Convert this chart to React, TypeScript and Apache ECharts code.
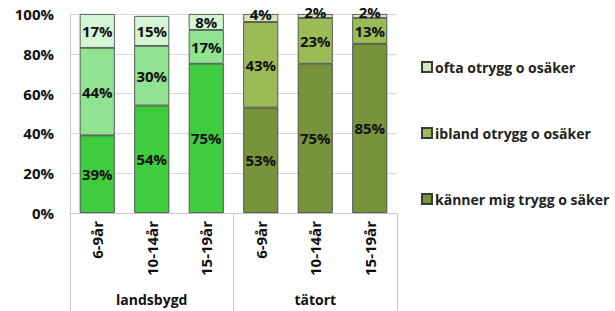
import React, { useEffect, useRef } from "react";
import * as echarts from "echarts";

const ageGroups = ["6-9år", "10-14år", "15-19år", "6-9år", "10-14år", "15-19år"];
const areas = ["landsbygd", "tätort"];
const seriesNames = ["känner mig trygg o säker", "ibland otrygg o osäker", "ofta otrygg o osäker"];
const trygg = [39, 54, 75, 53, 75, 85];
const ibland = [44, 30, 17, 43, 23, 13];
const ofta = [17, 15, 8, 4, 2, 2];
const yTicks = [0, 20, 40, 60, 80, 100];

const landColors = ["#3fcd3f", "#90e390", "#d4f6d4"];
const tatColors = ["#77933c", "#9bbb59", "#d7e4bd"];

export default function App() {
  const ref = useRef<HTMLDivElement>(null);
  useEffect(() => {
    if (!ref.current) return;
    const chart = echarts.init(ref.current, undefined, { renderer: "svg" });
    const font = "Open Sans";
    const values = [trygg, ibland, ofta];
    const series = values.map((vals, si) => ({
      name: seriesNames[si],
      type: "bar",
      stack: "total",
      barWidth: 35,
      itemStyle: { color: tatColors[si], borderColor: "#3a3a3a", borderWidth: 0.8 },
      label: {
        show: true,
        position: "inside",
        formatter: "{c}%",
        fontFamily: font,
        fontWeight: "bold",
        fontSize: 15,
        lineHeight: 14,
        color: "#111",
      },
      data: vals.map((v, i) => ({
        value: v,
        itemStyle: { color: i < 3 ? landColors[si] : tatColors[si] },
        label: v < 5 ? { offset: [0, -4] } : undefined,
      })),
    }));
    chart.setOption({
      animation: false,
      textStyle: { fontFamily: font },
      grid: { left: 70, right: 218, top: 14, bottom: 98 },
      legend: {
        orient: "vertical",
        left: 421,
        top: 60,
        padding: 0,
        itemGap: 52,
        itemWidth: 10,
        itemHeight: 10,
        icon: "rect",
        data: [seriesNames[2], seriesNames[1], seriesNames[0]],
        textStyle: {
          fontFamily: font,
          fontWeight: "bold",
          fontSize: 14,
          lineHeight: 14,
          color: "#222",
          padding: [0, 0, 0, -2],
        },
      },
      xAxis: [
        {
          type: "category",
          data: ageGroups,
          position: "bottom",
          axisLine: { show: true, lineStyle: { color: "#c8c8c8" } },
          axisTick: { show: false },
          axisLabel: {
            rotate: 90,
            margin: 8,
            fontFamily: font,
            fontWeight: "bold",
            fontSize: 15,
            color: "#111",
          },
        },
        {
          type: "category",
          data: areas,
          position: "bottom",
          axisLine: { show: false },
          axisTick: { show: true, length: 98, lineStyle: { color: "#c8c8c8" } },
          axisLabel: {
            margin: 79,
            fontFamily: font,
            fontWeight: "bold",
            fontSize: 14,
            color: "#111",
          },
        },
      ],
      yAxis: {
        type: "value",
        min: yTicks[0],
        max: yTicks[yTicks.length - 1],
        interval: 20,
        axisLine: { show: true, lineStyle: { color: "#c8c8c8" } },
        axisTick: { show: false },
        splitLine: { lineStyle: { color: "#d9d9d9" } },
        axisLabel: {
          formatter: "{value}%",
          margin: 16,
          fontFamily: font,
          fontWeight: "bold",
          fontSize: 15,
          color: "#111",
        },
      },
      series,
    });
    return () => chart.dispose();
  }, []);
  return <div ref={ref} style={{ width: 615, height: 311, position: "absolute", left: 0, top: 0 }} />;
}
